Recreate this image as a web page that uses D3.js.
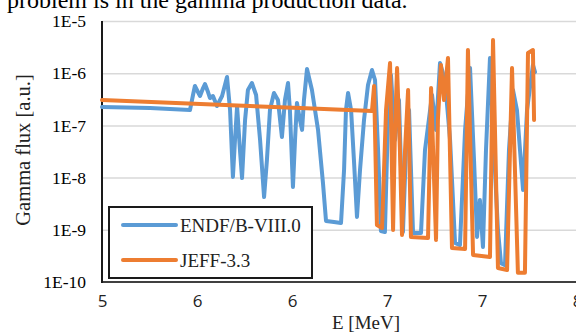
<!DOCTYPE html>
<html>
<head>
<meta charset="utf-8">
<script src="https://cdn.jsdelivr.net/npm/d3@7"></script>
<style>
  body { margin: 0; background: #fff; overflow: hidden; }
  svg { display: block; }
</style>
</head>
<body>
<div id="chart"></div>
<script>
// ---- data ----
const endfE = [5.000, 5.253, 5.463, 5.479, 5.489, 5.505, 5.516, 5.532, 5.542, 5.558, 5.568, 5.584, 5.605, 5.632,
  5.658, 5.674, 5.689, 5.700, 5.711, 5.726, 5.737, 5.753, 5.768, 5.789, 5.811, 5.832, 5.853, 5.868, 5.884,
  5.905, 5.926, 5.947, 5.963, 5.979, 5.989, 6.005, 6.016, 6.026, 6.042, 6.053, 6.063, 6.079, 6.105, 6.137,
  6.163, 6.179, 6.221, 6.258, 6.274, 6.284, 6.295, 6.311, 6.326, 6.342, 6.358, 6.379, 6.400, 6.421, 6.437,
  6.453, 6.468, 6.489, 6.505, 6.521, 6.542, 6.563, 6.584, 6.600, 6.616, 6.637, 6.679, 6.700, 6.737, 6.758,
  6.779, 6.805, 6.832, 6.858, 6.884, 6.911, 6.937, 6.958, 6.974, 6.989, 7.005, 7.021, 7.042, 7.063, 7.084,
  7.100, 7.121, 7.142, 7.163, 7.184, 7.200, 7.216, 7.237, 7.268, 7.279];
const endfFlux = [2.25e-7, 2.15e-7, 1.97e-7, 3.82e-7, 5.69e-7, 4.36e-7, 3.66e-7, 5.2e-7, 6.21e-7, 4.36e-7, 3.35e-7,
  3.66e-7, 2.35e-7, 3.66e-7, 8.45e-7, 1.97e-7, 1.03e-8, 5.25e-8, 2.35e-7, 3.38e-8, 9.8e-9, 1.27e-7, 4.77e-7,
  6.49e-7, 3.82e-7, 5.25e-8, 4.25e-9, 2.17e-8, 1.97e-7, 4.18e-7, 3.07e-7, 6.0e-8, 3.07e-7, 6.49e-7, 1.97e-7,
  6.6e-9, 5.25e-8, 2.69e-7, 1.27e-7, 8.2e-8, 3.07e-7, 1.2e-6, 4.77e-7, 8.2e-8, 7.9e-9, 1.48e-9, 1.41e-9,
  1.35e-9, 1.4e-8, 1.97e-7, 4.18e-7, 1.97e-7, 2.17e-8, 1.76e-9, 1.4e-8, 1.27e-7, 5.94e-7, 1.15e-6, 7.41e-7,
  3.38e-8, 9.5e-10, 9.1e-10, 1.27e-7, 9.2e-7, 5.25e-8, 3.07e-7, 9.1e-10, 3.38e-8, 1.97e-7, 8.7e-10, 8.7e-10,
  3.38e-8, 3.82e-7, 8.2e-8, 1.57e-6, 7.41e-7, 5.25e-8, 5.6e-10, 5.1e-10, 8.2e-8, 1.26e-6, 2.17e-8, 7.3e-10,
  3.72e-9, 4.7e-10, 3.38e-8, 1.95e-6, 3.38e-8, 9.9e-10, 2.3e-10, 2.1e-10, 3.38e-8, 4.77e-7, 1.97e-7, 3.38e-8,
  5.8e-9, 1.97e-7, 1.44e-6, 1.05e-6];

const jeffE = [5.000, 6.042, 6.421, 6.432, 6.447, 6.474, 6.495, 6.516, 6.532, 6.542, 6.553, 6.568, 6.579, 6.595,
  6.611, 6.626, 6.716, 6.732, 6.758, 6.768, 6.784, 6.800, 6.821, 6.842, 6.911, 6.926, 6.953, 7.042, 7.058,
  7.084, 7.132, 7.158, 7.189, 7.226, 7.242, 7.268, 7.274];
const jeffFlux = [3.07e-7, 2.15e-7, 1.89e-7, 5.69e-7, 1.24e-9, 1.08e-9, 1.97e-7, 1.57e-6, 9.9e-10, 8.2e-8, 1.26e-6,
  3.38e-8, 7.95e-10, 3.38e-8, 4.77e-7, 7.3e-10, 7.0e-10, 5.2e-7, 6.4e-10, 1.27e-7, 1.44e-6, 3.07e-7, 1.95e-6,
  4.5e-10, 4.3e-10, 2.78e-6, 3.3e-10, 3.0e-10, 4.33e-6, 1.85e-10, 1.7e-10, 1.26e-6, 1.5e-10, 1.5e-10, 2.44e-6,
  2.78e-6, 1.27e-7];

const seriesNames = ['ENDF/B-VIII.0', 'JEFF-3.3'];
const seriesColors = ['#5b9bd5', '#ed7d31'];
const xTicks = [5, 5.5, 6, 6.5, 7, 7.5];
const xTickLabels = ['5', '6', '6', '7', '7', '8'];
const yTicks = [1e-10, 1e-9, 1e-8, 1e-7, 1e-6, 1e-5];
const yTickLabels = ['1E-10', '1E-9', '1E-8', '1E-7', '1E-6', '1E-5'];
const caption = 'problem is in the gamma production data.';

// ---- layout ----
const width = 576, height = 333;
const plot = { left: 102, right: 577, top: 21, bottom: 282 };
const serif = '"Times New Roman", "Liberation Serif", serif';

const x = d3.scaleLinear().domain([5, 7.5]).range([plot.left, plot.right]);
const y = d3.scaleLog().domain([1e-10, 1e-5]).range([plot.bottom, plot.top]);

const svg = d3.select('#chart').append('svg')
  .attr('width', width)
  .attr('height', height);

// caption text from the page, cut at the top
svg.append('text')
  .attr('x', 7).attr('y', 8)
  .attr('font-family', serif).attr('font-size', 24)
  .attr('fill', '#000')
  .text(caption);

// gridlines
svg.append('g')
  .attr('transform', `translate(${plot.left},0)`)
  .call(d3.axisLeft(y).tickValues(yTicks.slice(1)).tickSize(-(width - plot.left)).tickFormat(''))
  .call(g => g.select('.domain').remove())
  .call(g => g.selectAll('.tick line').attr('stroke', '#d9d9d9').attr('stroke-width', 1.5));

// y tick labels
svg.append('g')
  .attr('transform', `translate(${plot.left},0)`)
  .call(d3.axisLeft(y).tickValues(yTicks).tickSize(0).tickPadding(16)
    .tickFormat((d, i) => yTickLabels[i]))
  .call(g => g.select('.domain').remove())
  .call(g => g.selectAll('text').attr('font-family', serif).attr('font-size', 17.5).attr('fill', '#000'));

// x tick labels
svg.append('g')
  .attr('transform', `translate(0,${plot.bottom})`)
  .call(d3.axisBottom(x).tickValues(xTicks).tickSize(0).tickPadding(13)
    .tickFormat((d, i) => xTickLabels[i]))
  .call(g => g.select('.domain').remove())
  .call(g => g.selectAll('text').attr('font-family', '"Open Sans", sans-serif').attr('font-size', 17).attr('fill', '#222'));

// axis lines
svg.append('line')
  .attr('x1', plot.left).attr('x2', width)
  .attr('y1', plot.bottom).attr('y2', plot.bottom)
  .attr('stroke', '#404040').attr('stroke-width', 2);
svg.append('line')
  .attr('x1', plot.left).attr('x2', plot.left)
  .attr('y1', plot.top).attr('y2', plot.bottom + 1)
  .attr('stroke', '#1a1a1a').attr('stroke-width', 2);

// series
const line = d3.line().x(d => x(d[0])).y(d => y(d[1])).curve(d3.curveLinear);
const seriesData = [
  d3.zip(endfE, endfFlux),
  d3.zip(jeffE, jeffFlux),
];
seriesData.forEach((pts, i) => {
  svg.append('path')
    .datum(pts)
    .attr('fill', 'none')
    .attr('stroke', seriesColors[i])
    .attr('stroke-width', 4)
    .attr('stroke-linejoin', 'round')
    .attr('stroke-linecap', 'round')
    .attr('d', line);
});

// legend
const legend = svg.append('g');
legend.append('rect')
  .attr('x', 109).attr('y', 207)
  .attr('width', 203).attr('height', 71)
  .attr('fill', '#fff').attr('stroke', '#1a1a1a').attr('stroke-width', 2);
seriesNames.forEach((name, i) => {
  const ly = 225 + i * 35;
  legend.append('line')
    .attr('x1', 123).attr('x2', 176)
    .attr('y1', ly).attr('y2', ly)
    .attr('stroke', seriesColors[i]).attr('stroke-width', 4).attr('stroke-linecap', 'round');
  legend.append('text')
    .attr('x', 180).attr('y', ly + 7)
    .attr('font-family', serif).attr('font-size', 19).attr('fill', '#222')
    .text(name);
});

// axis titles
svg.append('text')
  .attr('x', 366).attr('y', 329)
  .attr('text-anchor', 'middle')
  .attr('font-family', serif).attr('font-size', 19).attr('fill', '#222')
  .text('E [MeV]');
svg.append('text')
  .attr('transform', 'translate(30,150) rotate(-90)')
  .attr('text-anchor', 'middle')
  .attr('font-family', serif).attr('font-size', 20.5).attr('fill', '#222')
  .text('Gamma flux [a.u.]');
</script>
</body>
</html>
